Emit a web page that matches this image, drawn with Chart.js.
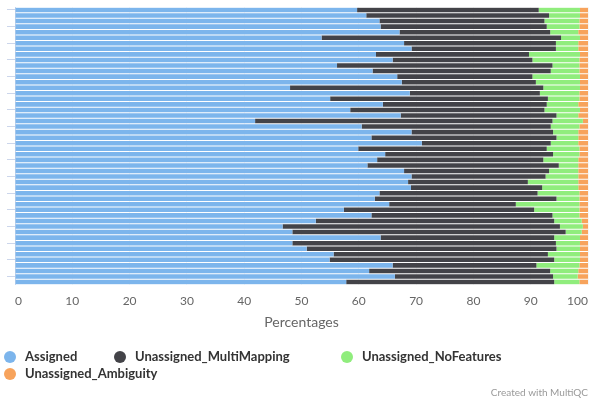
<!DOCTYPE html>
<html>
<head>
<meta charset="utf-8">
<script src="https://cdn.jsdelivr.net/npm/chart.js@4.4.1/dist/chart.umd.min.js"></script>
<style>
  html, body { margin: 0; padding: 0; background: #fff; }
  #wrap { position: relative; width: 590px; height: 403px; }
  #legend { position: absolute; left: 4px; top: 348px; width: 586px;
            font: bold 13px Lato, "DejaVu Sans", sans-serif; color: #333; line-height: 17px; }
  .item { display: inline-flex; align-items: center; height: 17px; vertical-align: top; white-space: nowrap; }
  .dot { width: 12px; height: 12px; border-radius: 50%; margin-right: 9px; flex: none; }
</style>
</head>
<body>
<div id="wrap">
  <canvas id="chart"></canvas>
  <div id="legend"></div>
</div>
<script>
// featureCounts assignment, one row per sample (percent of reads)
const samples = Array.from({ length: 50 }, (_, i) => 'Sample_' + String(i + 1).padStart(2, '0'));

const assigned = [
  59.7, 61.3, 63.6, 63.8, 67.1, 53.5, 67.9, 69.2, 63.0, 65.9,
  56.2, 62.4, 66.7, 67.5, 48.0, 68.9, 55.0, 64.2, 58.5, 67.3,
  41.9, 60.5, 69.2, 62.2, 71.0, 59.9, 64.6, 63.2, 61.5, 67.9,
  69.2, 68.6, 69.1, 63.6, 62.8, 65.3, 57.4, 62.2, 52.5, 46.7,
  48.4, 63.8, 48.4, 50.9, 55.6, 54.9, 65.9, 61.8, 66.3, 57.8
];
const multiMapping = [
  31.7, 31.9, 28.8, 29.0, 26.3, 41.8, 26.5, 25.2, 26.7, 24.4,
  37.6, 31.1, 23.6, 23.4, 44.2, 22.7, 38.0, 28.6, 33.9, 27.2,
  51.9, 33.0, 24.7, 32.3, 22.5, 32.9, 29.3, 29.0, 33.4, 25.3,
  23.4, 20.9, 22.9, 27.6, 31.7, 22.1, 33.2, 31.6, 41.6, 48.4,
  47.7, 30.3, 46.0, 43.6, 37.4, 39.2, 25.1, 31.6, 27.6, 36.3
];
const noFeatures = [
  7.2, 5.4, 6.1, 5.7, 4.9, 3.3, 3.9, 3.9, 8.9, 8.2,
  4.7, 5.0, 8.3, 7.7, 6.4, 6.9, 5.5, 5.5, 6.2, 3.8,
  5.3, 5.0, 4.4, 3.8, 4.8, 5.7, 4.6, 6.1, 3.4, 5.1,
  5.7, 8.8, 6.3, 7.3, 4.0, 11.1, 7.9, 4.7, 4.8, 4.0,
  2.8, 4.5, 4.2, 4.1, 5.6, 4.5, 7.5, 4.9, 4.3, 4.4
];
const ambiguity = [
  1.4, 1.4, 1.5, 1.5, 1.7, 1.4, 1.7, 1.7, 1.4, 1.5,
  1.5, 1.5, 1.4, 1.4, 1.4, 1.5, 1.5, 1.7, 1.4, 1.7,
  0.9, 1.5, 1.7, 1.7, 1.7, 1.5, 1.5, 1.7, 1.7, 1.7,
  1.7, 1.7, 1.7, 1.5, 1.5, 1.5, 1.5, 1.5, 1.1, 0.9,
  1.1, 1.4, 1.4, 1.4, 1.4, 1.4, 1.5, 1.7, 1.8, 1.5
];

const seriesNames = ['Assigned', 'Unassigned_MultiMapping', 'Unassigned_NoFeatures', 'Unassigned_Ambiguity'];
const seriesColors = ['#7cb5ec', '#434348', '#90ed7d', '#f7a35c'];
const seriesValues = [assigned, multiMapping, noFeatures, ambiguity];

Chart.defaults.font.family = 'Lato, "DejaVu Sans", sans-serif';

const datasets = seriesNames.map((name, i) => ({
  label: name,
  data: seriesValues[i],
  backgroundColor: seriesColors[i],
  borderWidth: 0,
  barPercentage: 1,
  categoryPercentage: 0.82
}));

new Chart(document.getElementById('chart'), {
  type: 'bar',
  data: { labels: samples, datasets },
  options: {
    indexAxis: 'y',
    responsive: true,
    maintainAspectRatio: false,
    animation: false,
    layout: { padding: { top: 7, left: 7, right: 2, bottom: 0 } },
    plugins: {
      legend: { display: false },
      tooltip: { enabled: false },
      title: {
        display: true,
        position: 'bottom',
        align: 'end',
        text: 'Created with MultiQC',
        color: '#999999',
        font: { size: 10, weight: 'normal' },
        padding: { top: 56, bottom: 4 }
      }
    },
    scales: {
      x: {
        stacked: true,
        min: 0,
        max: 100,
        z: 1,
        ticks: { stepSize: 10, align: 'inner', color: '#666666', font: { size: 12 }, padding: 0 },
        grid: { color: 'rgba(230,230,230,0.35)', drawTicks: true, tickLength: 9, tickColor: 'rgba(0,0,0,0)' },
        border: { display: false },
        title: {
          display: true,
          text: 'Percentages',
          color: '#666666',
          font: { size: 14 },
          padding: { top: 6, bottom: 0 }
        }
      },
      y: {
        stacked: true,
        grid: { drawOnChartArea: false, offset: false, tickLength: 8, color: '#ccd6eb' },
        border: { color: '#ccd6eb' },
        ticks: {
          autoSkip: false,
          padding: 0,
          callback: (value, index) => (index % 3 === 0 ? '' : null)
        }
      }
    }
  }
});

// Series key below the plot
const legendWidths = ['110px', '227px', '240px', 'auto'];
const legend = document.getElementById('legend');
seriesNames.forEach((name, i) => {
  const item = document.createElement('span');
  item.className = 'item';
  item.style.width = legendWidths[i];
  const dot = document.createElement('span');
  dot.className = 'dot';
  dot.style.background = seriesColors[i];
  item.appendChild(dot);
  item.appendChild(document.createTextNode(name));
  legend.appendChild(item);
});
</script>
</body>
</html>
